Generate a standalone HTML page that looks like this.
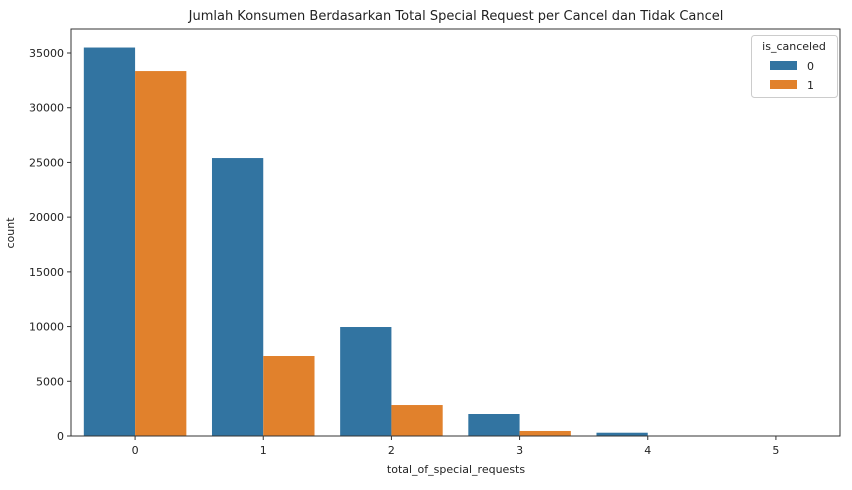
<!DOCTYPE html>
<html><head><meta charset="utf-8"><style>
body{margin:0;background:#fff;}
svg{display:block;font-family:"DejaVu Sans","Liberation Sans",sans-serif;}
</style></head><body>
<svg id="chart" width="852" height="490"></svg>
<script>
const categories=["0","1","2","3","4","5"];
const notCanceled=[35500,25400,9960,2010,300,40];
const canceled=[33350,7310,2830,460,30,10];
const yTicks=[0,5000,10000,15000,20000,25000,30000,35000];
const L=71,R=840,T=29,B=436;
const ns="http://www.w3.org/2000/svg";
const svg=document.getElementById('chart');
function el(t,a,txt){const e=document.createElementNS(ns,t);for(const k in a)e.setAttribute(k,a[k]);if(txt!==undefined)e.textContent=txt;svg.appendChild(e);return e;}
const y=v=>B-v*(383/35000);
const step=(R-L)/categories.length;
const xc=i=>L+step*(i+0.5);
const bw=step*0.4;
categories.forEach((c,i)=>{
  const b1=el('rect',{x:xc(i)-bw,y:y(notCanceled[i]),width:bw,height:B-y(notCanceled[i]),fill:'#3274a1'});
  
  
  const b2=el('rect',{x:xc(i),y:y(canceled[i]),width:bw,height:B-y(canceled[i]),fill:'#e1812c'});
  
  
  el('line',{x1:xc(i),x2:xc(i),y1:B,y2:B+4,stroke:'#333'});
  const t=el('text',{x:xc(i),y:B+18,'text-anchor':'middle','font-size':11,fill:'#222'},c);
  
  
});
yTicks.forEach(v=>{
  el('line',{x1:L-4,x2:L,y1:y(v),y2:y(v),stroke:'#333'});
  const t=el('text',{x:L-7,y:y(v)+4,'text-anchor':'end','font-size':11,fill:'#222'},v);
  
  
});
el('rect',{x:L,y:T,width:R-L,height:B-T,fill:'none',stroke:'#333','stroke-width':1});
</script>
<svg width="852" height="490" style="position:absolute;left:0;top:0;font-family:'DejaVu Sans','Liberation Sans',sans-serif">
<text x="456" y="20" text-anchor="middle" font-size="13" fill="#222">Jumlah Konsumen Berdasarkan Total Special Request per Cancel dan Tidak Cancel</text>
<text x="456" y="473" text-anchor="middle" font-size="11" fill="#222">total_of_special_requests</text>
<text x="14" y="233" text-anchor="middle" font-size="11" fill="#222" transform="rotate(-90 14 233)">count</text>
<g>
<rect x="751.5" y="35.5" width="86" height="62" rx="3" fill="#fff" stroke="#ccc"/>
<text x="794" y="50" text-anchor="middle" font-size="11" fill="#222">is_canceled</text>
<rect x="770" y="61" width="27" height="9" fill="#3274a1"/>
<text x="807" y="70" font-size="11" fill="#222">0</text>
<rect x="770" y="80" width="27" height="9" fill="#e1812c"/>
<text x="807" y="89" font-size="11" fill="#222">1</text>
</g>
</svg>
</body></html>
